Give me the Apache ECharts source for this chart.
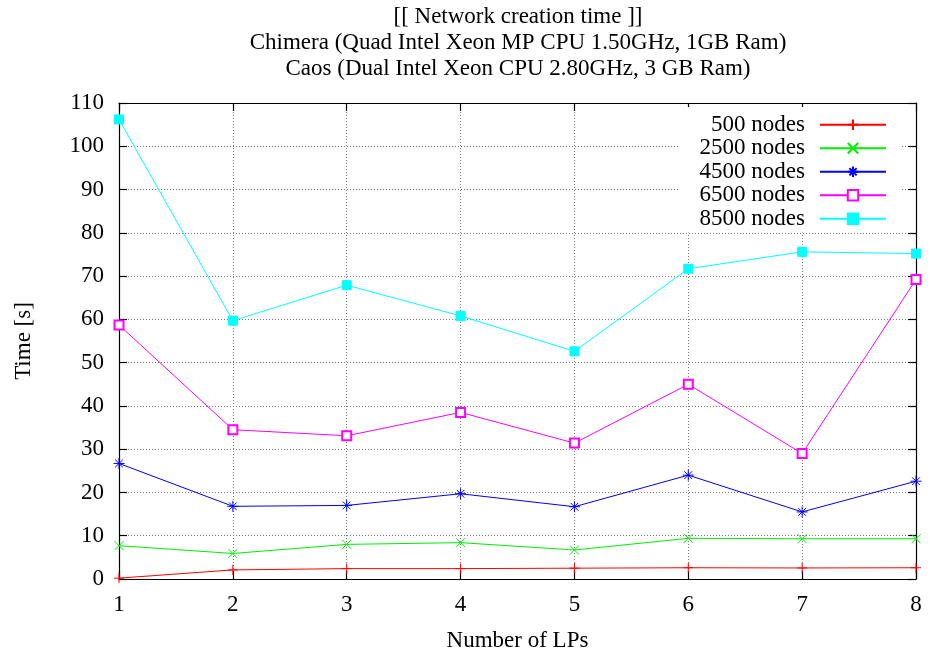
<!DOCTYPE html>
<html>
<head>
<meta charset="utf-8">
<title>Network creation time</title>
<script src="https://cdn.jsdelivr.net/npm/echarts@6/dist/echarts.min.js"></script>
<style>
  html, body { margin: 0; padding: 0; background: #fff; }
  #chart { width: 929px; height: 657px; }
</style>
</head>
<body>
<div id="chart"></div>
<script>
// Number of logical processes (x axis)
const lps = [1, 2, 3, 4, 5, 6, 7, 8];

// Creation time in seconds for each network size
const nodes500  = [0.2, 2.1, 2.4, 2.4, 2.5, 2.6, 2.55, 2.6];
const nodes2500 = [7.7, 5.9, 8.0, 8.4, 6.7, 9.4, 9.3, 9.3];
const nodes4500 = [26.7, 16.8, 17.0, 19.7, 16.7, 24.0, 15.5, 22.6];
const nodes6500 = [58.7, 34.5, 33.1, 38.5, 31.4, 45.0, 29.0, 69.2];
const nodes8500 = [106.2, 59.7, 67.9, 60.8, 52.6, 71.7, 75.6, 75.2];

const seriesNames = ['500 nodes', '2500 nodes', '4500 nodes', '6500 nodes', '8500 nodes'];

const yTicks = { min: 0, max: 110, step: 10 };

const FONT = 'Liberation Serif';
const textBase = { fontFamily: FONT, fontSize: 23, color: '#000' };

// gnuplot-like point glyphs
const SYM_PLUS = 'path://M0,5L10,5M5,0L5,10';
const SYM_CROSS = 'path://M0,0L10,10M10,0L0,10';
const SYM_STAR = 'path://M0,5L10,5M5,0L5,10M1.5,1.5L8.5,8.5M8.5,1.5L1.5,8.5';

function pairs(values) {
  return lps.map((x, i) => [x, values[i]]);
}

function lineSeries(name, values, color, symbol, size) {
  return {
    name: name,
    type: 'line',
    data: pairs(values),
    symbol: symbol,
    symbolSize: size,
    showAllSymbol: true,
    lineStyle: { color: color, width: 1 },
    itemStyle: { color: color, borderColor: color, borderWidth: 1 },
    emphasis: { disabled: true },
    z: 3
  };
}

const gridLine = { show: true, lineStyle: { color: '#7a7a7a', width: 1, type: [1, 2] } };
const frameLine = { show: true, onZero: false, lineStyle: { color: '#000', width: 1.2 } };
const innerTick = { show: true, inside: true, length: 8, lineStyle: { color: '#000', width: 1.2 } };

const chart = echarts.init(document.getElementById('chart'), null, { renderer: 'canvas' });

chart.setOption({
  animation: false,
  backgroundColor: '#fff',
  title: {
    text: '[[ Network creation time ]]\nChimera (Quad Intel Xeon MP CPU 1.50GHz, 1GB Ram)\nCaos (Dual Intel Xeon CPU 2.80GHz, 3 GB Ram)',
    left: 518,
    textAlign: 'center',
    top: 4,
    padding: 0,
    textStyle: Object.assign({}, textBase, { fontWeight: 'normal', lineHeight: 26 })
  },
  grid: { left: 119, right: 13, top: 103, bottom: 74, containLabel: false },
  legend: {
    orient: 'vertical',
    right: 28,
    top: 107,
    align: 'right',
    padding: [6, 14, 2, 20],
    backgroundColor: '#fff',
    itemWidth: 66,
    itemHeight: 13,
    itemGap: 0,
    selectedMode: false,
    textStyle: Object.assign({}, textBase, { lineHeight: 23.5, padding: [0, 10, 0, 0] }),
    data: seriesNames,
    z: 5
  },
  xAxis: [
    {
      type: 'value', position: 'bottom', min: 1, max: 8, interval: 1,
      name: 'Number of LPs', nameLocation: 'middle', nameGap: 50,
      nameTextStyle: textBase,
      axisLine: frameLine, axisTick: innerTick,
      axisLabel: Object.assign({ margin: 14 }, textBase),
      splitLine: gridLine
    },
    {
      type: 'value', position: 'top', min: 1, max: 8, interval: 1,
      axisLine: frameLine, axisTick: innerTick,
      axisLabel: { show: false }, splitLine: { show: false }
    }
  ],
  yAxis: [
    {
      type: 'value', position: 'left', min: yTicks.min, max: yTicks.max, interval: yTicks.step,
      name: 'Time [s]', nameLocation: 'middle', nameGap: 84, nameRotate: 90,
      nameTextStyle: textBase,
      axisLine: frameLine, axisTick: innerTick,
      axisLabel: Object.assign({ margin: 15 }, textBase),
      splitLine: gridLine
    },
    {
      type: 'value', position: 'right', min: yTicks.min, max: yTicks.max, interval: yTicks.step,
      axisLine: frameLine, axisTick: innerTick,
      axisLabel: { show: false }, splitLine: { show: false }
    }
  ],
  series: [
    lineSeries(seriesNames[0], nodes500, '#ff0000', SYM_PLUS, 10),
    lineSeries(seriesNames[1], nodes2500, '#00ee00', SYM_CROSS, 9),
    lineSeries(seriesNames[2], nodes4500, '#0000ff', SYM_STAR, 11),
    lineSeries(seriesNames[3], nodes6500, '#ff00ff', 'emptyRect', 9),
    lineSeries(seriesNames[4], nodes8500, '#00ffff', 'rect', 9)
  ]
});
</script>
</body>
</html>
